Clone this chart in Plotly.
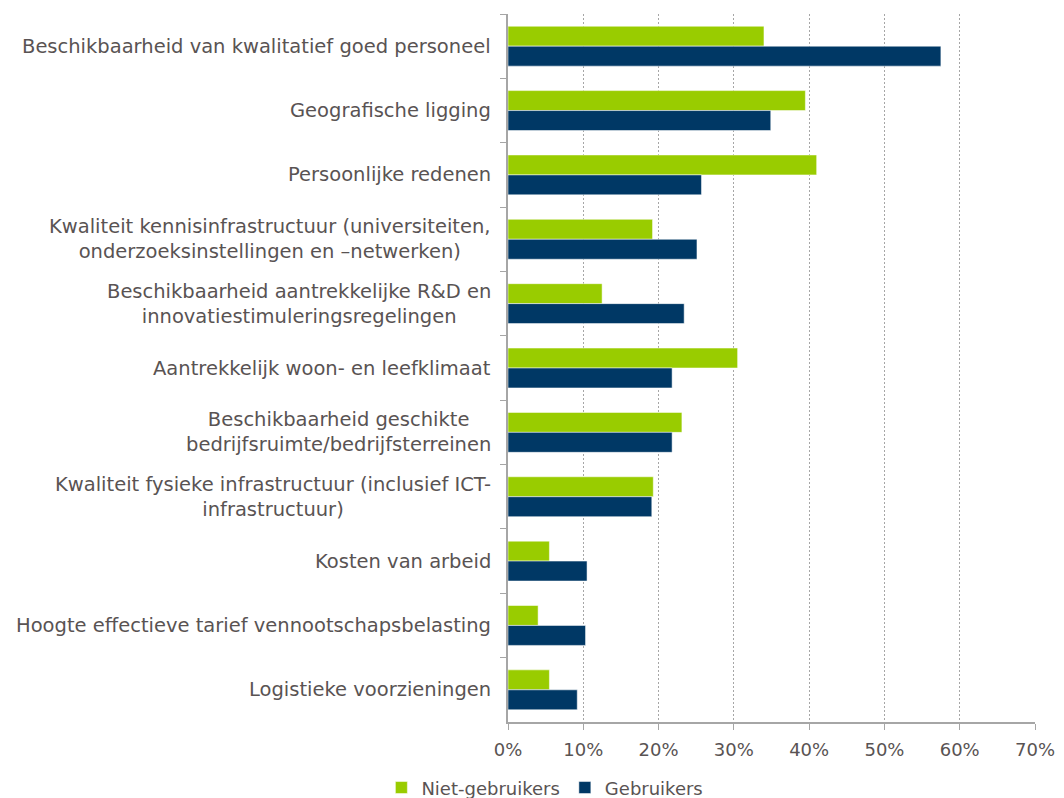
import plotly.graph_objs as go

categories = [
    "Beschikbaarheid van kwalitatief goed personeel",
    "Geografische ligging",
    "Persoonlijke redenen",
    "Kwaliteit kennisinfrastructuur (universiteiten,<br>onderzoeksinstellingen en –netwerken)",
    "Beschikbaarheid aantrekkelijke R&D en<br>innovatiestimuleringsregelingen",
    "Aantrekkelijk woon- en leefklimaat",
    "Beschikbaarheid geschikte<br>bedrijfsruimte/bedrijfsterreinen",
    "Kwaliteit fysieke infrastructuur (inclusief ICT-<br>infrastructuur)",
    "Kosten van arbeid",
    "Hoogte effectieve tarief vennootschapsbelasting",
    "Logistieke voorzieningen",
]

niet_gebruikers = [34.0, 39.5, 41.0, 19.2, 12.5, 30.5, 23.1, 19.3, 5.5, 4.0, 5.5]
gebruikers = [57.5, 34.9, 25.7, 25.1, 23.4, 21.8, 21.8, 19.1, 10.5, 10.3, 9.2]

x_ticks = [0, 10, 20, 30, 40, 50, 60, 70]
x_tick_labels = ["0%", "10%", "20%", "30%", "40%", "50%", "60%", "70%"]

text_color = "#595353"
axis_color = "#A6A6A6"
font_family = "DejaVu Sans"

fig = go.Figure()

fig.add_trace(go.Bar(
    y=categories,
    x=niet_gebruikers,
    orientation='h',
    name='Niet-gebruikers',
    marker=dict(color='#99CC00', line=dict(color='rgba(255,255,255,0.5)', width=1)),
))

fig.add_trace(go.Bar(
    y=categories,
    x=gebruikers,
    orientation='h',
    name='Gebruikers',
    marker=dict(color='#003865', line=dict(color='rgba(255,255,255,0.5)', width=1)),
))

# category labels as annotations so wrapped lines can be centred like the original
for cat in categories:
    fig.add_annotation(
        x=0, xref='paper',
        y=cat, yref='y',
        text=cat,
        showarrow=False,
        xanchor='right',
        xshift=-15,
        align='center',
        font=dict(family=font_family, size=19.5, color=text_color),
    )

# page has an 8px body margin, so the figure is 8px smaller than the window
fig.update_layout(
    barmode='group',
    bargap=0.38,
    bargroupgap=0,
    width=1056,
    height=790,
    margin=dict(l=500, r=29, t=6, b=76, autoexpand=False),
    plot_bgcolor='white',
    paper_bgcolor='white',
    font=dict(family=font_family, color=text_color),
    legend=dict(
        orientation='h',
        x=0.07, xanchor='center',
        y=-0.093, yanchor='middle',
        font=dict(family=font_family, size=18, color=text_color),
        itemwidth=30,
    ),
    xaxis=dict(
        range=[0, 70],
        tickvals=x_ticks,
        ticktext=x_tick_labels,
        tickfont=dict(family=font_family, size=18, color=text_color),
        showgrid=True,
        gridcolor=axis_color,
        griddash='2px,2px',
        gridwidth=1,
        showline=True,
        linecolor=axis_color,
        linewidth=2,
        ticks='outside',
        ticklen=6,
        tickcolor=axis_color,
        ticklabelstandoff=4,
        zeroline=False,
    ),
    yaxis=dict(
        autorange='reversed',
        showticklabels=False,
        showline=True,
        linecolor=axis_color,
        linewidth=2,
        ticks='outside',
        ticklen=6,
        tickcolor=axis_color,
        tickson='boundaries',
        showgrid=False,
    ),
)

fig.write_html("out.html")
